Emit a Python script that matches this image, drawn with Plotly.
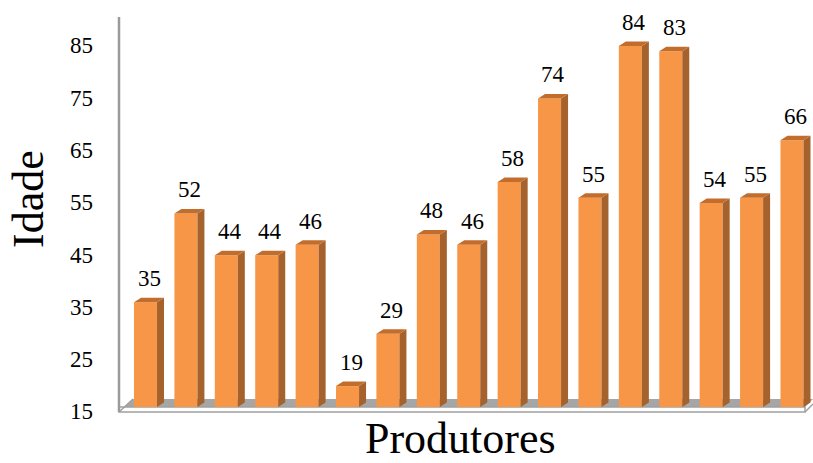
import plotly.graph_objects as go

# Age of each producer
produtores = list(range(1, 18))
idade = [35, 52, 44, 44, 46, 19, 29, 48, 46, 58, 74, 55, 84, 83, 54, 55, 66]
y_ticks = [15, 25, 35, 45, 55, 65, 75, 85]

BASE = 15            # floor level of the bars
BAR_W = 0.57         # front face width (category units)
DX, DY = 0.173, 0.86  # depth offset of the 3-D extrusion (x units, y units)

FRONT = "#F79646"
SIDE = "#A5622C"
TOP = "#C36D2D"
FONT = "Liberation Serif, Times New Roman, serif"

# plot area in pixels
L, R, T, B = 119, 813, 17, 412
W, H = 813, 463
X0, X1 = -0.656, 16.52
Y0, Y1 = 14.04, 89.56


def px(xp, yp):
    """pixel position -> paper coordinates"""
    return (xp - L) / (R - L), (B - yp) / (B - T)


xs = [i for i in range(len(idade))]
fig = go.Figure()

# front faces
fig.add_trace(go.Bar(
    x=xs, y=[v - BASE for v in idade], base=BASE, width=BAR_W,
    marker=dict(color=FRONT, line=dict(width=0)), hoverinfo="skip",
))

# side and top faces of each column
for x, v in zip(xs, idade):
    xl, xr = x - BAR_W / 2, x + BAR_W / 2
    fig.add_trace(go.Scatter(
        x=[xr, xr, xr + DX, xr + DX, xr], y=[BASE, v, v + DY, BASE + DY, BASE],
        fill="toself", fillcolor=SIDE, mode="lines", line=dict(width=0),
        hoverinfo="skip",
    ))
    fig.add_trace(go.Scatter(
        x=[xl, xr, xr + DX, xl + DX, xl], y=[v, v, v + DY, v + DY, v],
        fill="toself", fillcolor=TOP, mode="lines", line=dict(width=0),
        hoverinfo="skip",
    ))

shapes = []
# floor: grey top face
fx = [(124, 407), (805, 407), (813, 399), (133, 399)]
path = "M " + " L ".join(f"{px(a, b)[0]},{px(a, b)[1]}" for a, b in fx) + " Z"
shapes.append(dict(type="path", xref="paper", yref="paper", path=path,
                   fillcolor="#A6A6A6", line=dict(width=0), layer="below"))
# floor: front slab
sx = [(119, 407), (805, 407), (805, 412), (119, 412)]
path = "M " + " L ".join(f"{px(a, b)[0]},{px(a, b)[1]}" for a, b in sx) + " Z"
shapes.append(dict(type="path", xref="paper", yref="paper", path=path,
                   fillcolor="white", line=dict(color="#A0A0A0", width=1.5), layer="below"))
for (a, b), (c, d) in [((119, 412), (133, 399)), ((805, 412), (813, 404))]:
    p0, p1 = px(a, b), px(c, d)
    shapes.append(dict(type="line", xref="paper", yref="paper",
                       x0=p0[0], y0=p0[1], x1=p1[0], y1=p1[1],
                       line=dict(color="#A0A0A0", width=1.5)))
# vertical axis line
shapes.append(dict(type="line", xref="paper", yref="paper", x0=0, x1=0, y0=0, y1=1,
                   line=dict(color="#9A9A9A", width=2.5)))

annotations = []
# value labels
for x, v in zip(xs, idade):
    annotations.append(dict(x=x + DX / 2, y=v, xref="x", yref="y", text=str(v),
                            showarrow=False, xanchor="center", yanchor="bottom", yshift=9,
                            font=dict(family=FONT, size=23, color="black")))
# y tick labels
for t in y_ticks:
    annotations.append(dict(x=0, y=t, xref="paper", yref="y", text=str(t),
                            showarrow=False, xanchor="right", yanchor="middle",
                            xshift=-24, yshift=-5,
                            font=dict(family=FONT, size=23, color="black")))
# axis titles
ax, ay = px(28, 199)
annotations.append(dict(x=ax, y=ay, xref="paper", yref="paper", text="Idade",
                        showarrow=False, textangle=-90, xanchor="center", yanchor="middle",
                        font=dict(family=FONT, size=44, color="black")))
bx, by = px(460, 439)
annotations.append(dict(x=bx, y=by, xref="paper", yref="paper", text="Produtores",
                        showarrow=False, xanchor="center", yanchor="middle",
                        font=dict(family=FONT, size=44, color="black")))

fig.update_layout(
    width=W, height=H,
    margin=dict(l=L, r=W - R, t=T, b=H - B),
    plot_bgcolor="white", paper_bgcolor="white",
    showlegend=False,
    xaxis=dict(range=[X0, X1], visible=False, fixedrange=True),
    yaxis=dict(range=[Y0, Y1], visible=False, fixedrange=True),
    shapes=shapes, annotations=annotations,
)

fig.write_html("out.html", config={"displayModeBar": False})
